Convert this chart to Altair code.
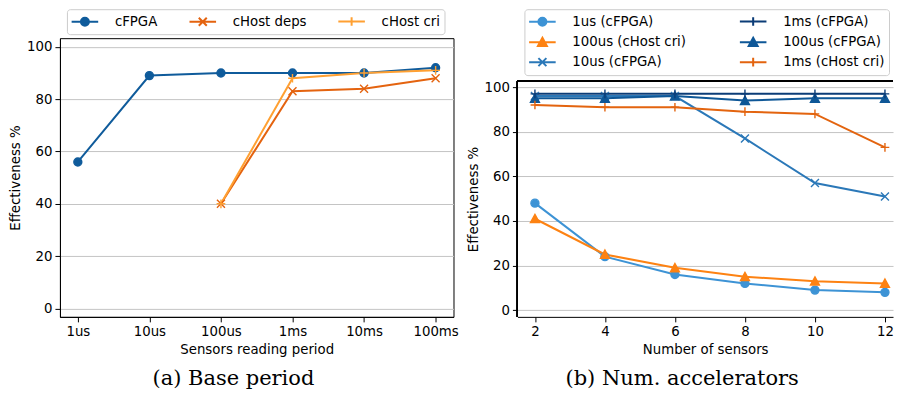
import json
import altair as alt
import pandas as pd

# ---------------- data ----------------
periods = ["1us", "10us", "100us", "1ms", "10ms", "100ms"]
left_series = ["cFPGA", "cHost deps", "cHost cri"]
cfpga = [56, 89, 90, 90, 90, 92]
chost_deps = [None, None, 40, 83, 84, 88]
chost_cri = [None, None, 40, 88, 90, 91]

sensors = [2, 4, 6, 8, 10, 12]
right_series = ["1us (cFPGA)", "10us (cFPGA)", "100us (cFPGA)",
                "100us (cHost cri)", "1ms (cFPGA)", "1ms (cHost cri)"]
us1_fpga = [48, 24, 16, 12, 9, 8]
us10_fpga = [96, 96, 96, 77, 57, 51]
us100_fpga = [95, 95, 96, 94, 95, 95]
us100_host = [41, 25, 19, 15, 13, 12]
ms1_fpga = [97, 97, 97, 97, 97, 97]
ms1_host = [92, 91, 91, 89, 88, 73]

y_ticks = [0, 20, 40, 60, 80, 100]

# axis limits
left_xlim = [-0.25, 5.25]
left_ylim = [-3.2, 103.3]
right_xlim = [1.5, 12.23]
right_ylim = [-3.0, 102.7]

# ---------------- styles ----------------
CIRCLE = "M-0.57,0A0.57,0.57,0,1,0,0.57,0A0.57,0.57,0,1,0,-0.57,0Z"
XMARK = "M-0.57,-0.57L0.57,0.57M-0.57,0.57L0.57,-0.57"
PLUS = "M-0.62,0H0.62M0,-0.62V0.62"
TRI = "M0,-0.62L0.64,0.56L-0.64,0.56Z"
LINE = "M-1.9,0H1.9"

left_style = {
    "cFPGA": ("#0f5b9b", CIRCLE),
    "cHost deps": ("#e4630f", XMARK),
    "cHost cri": ("#ffa032", PLUS),
}
right_style = {
    "1us (cFPGA)": ("#3d93d5", CIRCLE),
    "10us (cFPGA)": ("#2b78b8", XMARK),
    "100us (cFPGA)": ("#0e5797", TRI),
    "100us (cHost cri)": ("#fd8212", TRI),
    "1ms (cFPGA)": ("#0b3c77", PLUS),
    "1ms (cHost cri)": ("#e3640f", PLUS),
}
# legend order (row-major, 2 columns) for the right panel
right_legend_order = ["1us (cFPGA)", "100us (cHost cri)", "10us (cFPGA)",
                      "1ms (cFPGA)", "100us (cFPGA)", "1ms (cHost cri)"]

FONT = "DejaVu Sans"
FS = 13.33
PLOT_H = 279          # both plot areas share the same top; right one is framed lower
RIGHT_FRAME_H = 236   # visible frame height of the right panel


def long_frame(xvals, series_names, series_values, style, xname):
    rows = []
    for name, vals in zip(series_names, series_values):
        for xv, v in zip(xvals, vals):
            if v is None:
                continue
            rows.append({xname: xv, "series": name, "value": v,
                         "col": style[name][0], "mk": style[name][1]})
    return pd.DataFrame(rows)


left_df = long_frame(list(range(len(periods))), left_series,
                     [cfpga, chost_deps, chost_cri], left_style, "idx")
right_df = long_frame(sensors, right_series,
                      [us1_fpga, us10_fpga, us100_fpga, us100_host, ms1_fpga, ms1_host],
                      right_style, "n")


def legend(x, y, cols, colpad):
    return alt.Legend(
        title=None, orient="none", legendX=x, legendY=y, columns=cols,
        symbolSize=196, symbolStrokeWidth=2, symbolOpacity=1, symbolOffset=6,
        labelOffset=22, labelFont=FONT, labelFontSize=FS, labelColor="black",
        labelLimit=400, columnPadding=colpad, rowPadding=3, padding=4,
        strokeColor="#cccccc", cornerRadius=3, fillColor="white",
    )


def panel(df, xfield, xlim, xaxis_kw, ylim, style, domain, leg, width,
          caption, frame_h=None):
    xscale = alt.Scale(domain=xlim, nice=False, zero=False)
    if frame_h is None:
        yscale = alt.Scale(domain=ylim, nice=False, zero=False)
        yaxis_kw = dict(values=y_ticks, title="Effectiveness %", grid=True, titlePadding=4)
    else:
        # the scale keeps the visible frame's pixel-per-unit, and reaches higher
        per_unit = frame_h / (ylim[1] - ylim[0])
        ytop = ylim[0] + PLOT_H / per_unit
        yscale = alt.Scale(domain=[ylim[0], ytop], nice=False, zero=False)
        yaxis_kw = dict(values=y_ticks, title="Effectiveness %", grid=True, titlePadding=4,
                        domain=False, titleY=PLOT_H - frame_h / 2)
    x = alt.X(f"{xfield}:Q", scale=xscale, axis=alt.Axis(**xaxis_kw))
    y = alt.Y("value:Q", scale=yscale, axis=alt.Axis(**yaxis_kw))
    lines = alt.Chart(df).mark_line(strokeWidth=2).encode(
        x=x, y=y,
        stroke=alt.Stroke("col:N", scale=None),
        detail="series:N",
    )
    pts = alt.Chart(df).mark_point(filled=True, size=196, strokeWidth=1.4, opacity=1).encode(
        x=x, y=y,
        fill=alt.Fill("col:N", scale=None),
        stroke=alt.Stroke("col:N", scale=None),
        shape=alt.Shape("mk:N", scale=None),
        detail="series:N",
    )
    cols = [style[s][0] for s in domain]
    legpaths = [LINE + style[s][1] for s in domain]
    leglayer = alt.Chart(df).mark_point(filled=True, size=196, opacity=0).encode(
        x=x, y=y,
        fill=alt.Fill("series:N", scale=alt.Scale(domain=domain, range=cols), legend=leg),
        stroke=alt.Stroke("series:N", scale=alt.Scale(domain=domain, range=cols), legend=leg),
        shape=alt.Shape("series:N", scale=alt.Scale(domain=domain, range=legpaths), legend=leg),
    )
    layers = [lines, pts, leglayer]
    if frame_h is not None:
        frame_top = alt.Chart(df).mark_rule(color="black", strokeWidth=1).encode(
            x=alt.X(datum=xlim[0], type="quantitative", scale=xscale, axis=alt.Axis(**xaxis_kw)),
            x2=alt.X2(datum=xlim[1]),
            y=alt.Y(datum=ylim[1], type="quantitative", scale=yscale, axis=alt.Axis(**yaxis_kw)),
        )
        frame_left = alt.Chart(df).mark_rule(color="black", strokeWidth=1).encode(
            x=alt.X(datum=xlim[0], type="quantitative", scale=xscale, axis=alt.Axis(**xaxis_kw)),
            y=alt.Y(datum=ylim[0], type="quantitative", scale=yscale, axis=alt.Axis(**yaxis_kw)),
            y2=alt.Y2(datum=ylim[1]),
        )
        layers = [frame_top, frame_left] + layers
    ch = alt.layer(*layers).properties(
        width=width, height=PLOT_H,
        view=alt.ViewBackground(stroke="black" if frame_h is None else "transparent",
                                strokeWidth=1),
        title=alt.TitleParams(caption, orient="bottom", anchor="middle", frame="bounds",
                              font="DejaVu Serif", fontSize=21, fontWeight="normal",
                              color="black", offset=13),
    )
    return ch


left = panel(left_df, "idx", left_xlim,
             dict(values=list(range(len(periods))),
                  labelExpr=f"{json.dumps(periods)}[datum.value]",
                  grid=False, title="Sensors reading period"),
             left_ylim, left_style, left_series, legend(7, -29, 3, 27), 394,
             "(a) Base period")

right = panel(right_df, "n", right_xlim,
              dict(values=sensors, grid=False, title="Number of sensors", format="d"),
              right_ylim, right_style, right_legend_order, legend(7, -29, 2, 49), 376,
              "(b) Num. accelerators", frame_h=RIGHT_FRAME_H)

chart = alt.hconcat(left, right, spacing=6).resolve_scale(
    fill="independent", stroke="independent", shape="independent"
).resolve_legend(
    fill="independent", stroke="independent", shape="independent"
).properties(
    padding=0, background="white"
).configure_axis(
    labelFont=FONT, labelFontSize=FS, labelColor="black",
    titleFont=FONT, titleFontSize=FS, titleFontWeight="normal", titleColor="black",
    tickColor="black", tickSize=5, tickWidth=1, labelPadding=3, titlePadding=4,
    domainColor="black", domainWidth=1, gridColor="#c4c4c4", gridWidth=1,
).configure_view(stroke="black")

chart.save("out.html", embed_options={"renderer": "svg", "actions": False})
